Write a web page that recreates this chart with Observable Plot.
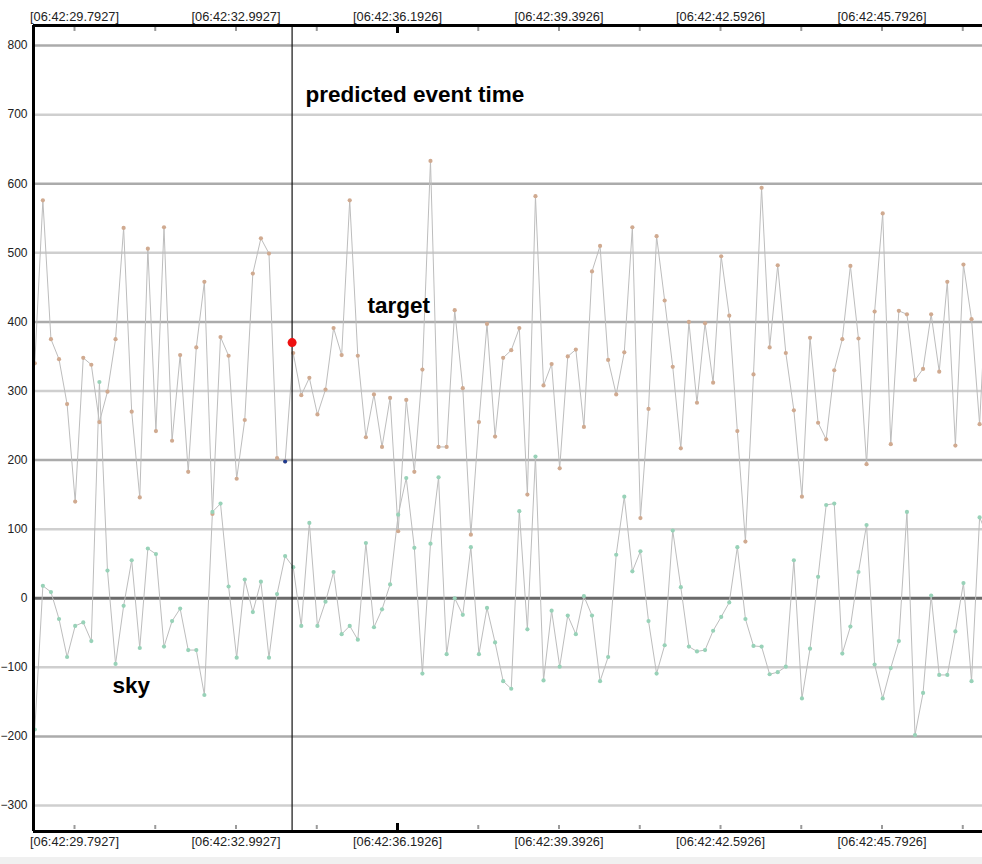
<!DOCTYPE html>
<html><head><meta charset="utf-8">
<script src="https://cdn.jsdelivr.net/npm/d3@7"></script>
<script src="https://cdn.jsdelivr.net/npm/@observablehq/plot@0.6"></script>
<style>
body{margin:0;background:#f0f0f0;}
#chart svg{display:block;background:#fff;}
</style>
</head><body><div id="chart"></div>
<script>
// sampling (seconds after 06:42:00)
const sampleStart = 29.006;
const sampleInterval = 0.16;

const target = [340,576,375,346,281,140,348,338,255,299,375,536,270,146,506,242,537,228,352,183,
  363,458,122,378,351,173,258,470,521,499,203,198,355,294,319,266,302,391,352,576,
  351,233,295,219,290,97,287,183,331,633,219,219,417,304,92,255,397,234,348,359,
  391,150,582,308,339,188,350,360,248,473,510,345,295,356,537,116,274,524,431,335,
  217,400,283,398,312,495,409,242,82,324,594,363,482,355,272,147,377,254,230,330,
  375,481,376,194,415,557,223,416,411,316,332,411,328,458,221,483,404,252,480];

const sky = [-190,18,9,-30,-85,-40,-35,-62,313,40,-95,-11,55,-72,72,64,-70,-33,-15,-75,
  -75,-140,125,137,17,-86,27,-20,24,-86,6,61,45,-40,109,-40,-5,38,-52,-40,
  -60,80,-42,-16,20,121,174,73,-109,79,175,-81,0,-24,74,-81,-14,-64,-120,-131,
  126,-45,205,-119,-18,-99,-25,-52,3,-25,-120,-85,63,147,39,68,-33,-109,-68,98,
  16,-70,-77,-75,-47,-27,-6,74,-30,-69,-70,-110,-107,-99,55,-145,-73,31,135,137,
  -80,-41,38,106,-96,-145,-101,-62,125,-198,-137,4,-111,-111,-48,22,-120,117,90];

const markedSample = 31;           // dark blue sample
const eventTime = 34.104;          // predicted event time
const eventValue = 370;

const timeTicks = [29.7927, 32.9927, 36.1926, 39.3926, 42.5926, 45.7926];
const timeTickLabels = ["[06:42:29.7927]","[06:42:32.9927]","[06:42:36.1926]","[06:42:39.3926]","[06:42:42.5926]","[06:42:45.7926]"];
const minorTicks = [29.7927, 31.3927, 32.9927, 34.5927, 37.7926, 39.3926, 40.9926, 42.5926, 44.1926, 45.7926, 47.3926];
const majorTicks = [36.1926];

const yTicks = [-300,-200,-100,0,100,200,300,400,500,600,700,800];
const gridDark = [-200,200,400,600,800];
const gridLight = [-300,-100,100,300,500,700];
const zeroLine = [0];

const xDomain = [28.9803, 47.7834];
const yDomain = [-337.6, 829];

const labels = [
  {text: "predicted event time", t: 34.37, v: 729, spacing: 0.4},
  {text: "target", t: 35.60, v: 424, spacing: 0},
  {text: "sky", t: 30.546, v: -126, spacing: 0}
];

const targetRows = target.map((v, i) => ({t: sampleStart + i * sampleInterval, v}));
const skyRows = sky.map((v, i) => ({t: sampleStart + i * sampleInterval, v}));
const markedRows = [targetRows[markedSample]];

const W = 982, H = 857, mT = 25, mB = 26, mL = 33, mR = 0;
const plotH = H - mT - mB;
const fmt = new Map(timeTicks.map((t, i) => [t, timeTickLabels[i]]));
const font = "'Liberation Sans', Arial, sans-serif";

const chart = Plot.plot({
  width: W, height: H,
  marginTop: mT, marginBottom: mB, marginLeft: mL, marginRight: mR,
  style: {fontFamily: font, fontSize: "12px", color: "#222", background: "#fff"},
  x: {type: "linear", domain: xDomain},
  y: {domain: yDomain},
  marks: [
    Plot.ruleY(gridLight, {stroke: "#cfcfcf", strokeWidth: 2.5}),
    Plot.ruleY(gridDark, {stroke: "#ababab", strokeWidth: 2.5}),
    Plot.ruleY(zeroLine, {stroke: "#6a6a6a", strokeWidth: 3}),
    Plot.line(targetRows, {x: "t", y: "v", stroke: "#bdbdbd", strokeWidth: 1, clip: true}),
    Plot.line(skyRows, {x: "t", y: "v", stroke: "#bdbdbd", strokeWidth: 1, clip: true}),
    Plot.dot(targetRows, {x: "t", y: "v", r: 2.1, fill: "#d0aa90", stroke: "none", clip: true}),
    Plot.dot(skyRows, {x: "t", y: "v", r: 2.1, fill: "#98d2b8", stroke: "none", clip: true}),
    Plot.dot(markedRows, {x: "t", y: "v", r: 2, fill: "#1d3a8f", stroke: "none"}),
    Plot.ruleX([eventTime], {stroke: "#111", strokeWidth: 1.2}),
    Plot.dot([{t: eventTime, v: eventValue}], {x: "t", y: "v", r: 4.5, fill: "#ee1111", stroke: "none"}),
    // ticks inside frame, top and bottom
    Plot.ruleX(minorTicks, {stroke: "#9a9a9a", strokeWidth: 2, insetBottom: plotH - 6, insetTop: 2}),
    Plot.ruleX(minorTicks, {stroke: "#9a9a9a", strokeWidth: 2, insetTop: plotH - 6, insetBottom: 2}),
    Plot.ruleX(majorTicks, {stroke: "#000", strokeWidth: 3, insetBottom: plotH - 8}),
    Plot.ruleX(majorTicks, {stroke: "#000", strokeWidth: 3, insetTop: plotH - 8}),
    // frame: left, top, bottom
    Plot.ruleX([xDomain[0]], {stroke: "#000", strokeWidth: 3}),
    Plot.ruleY([yDomain[1]], {stroke: "#000", strokeWidth: 3}),
    Plot.ruleY([yDomain[0]], {stroke: "#000", strokeWidth: 3}),
    Plot.axisY({ticks: yTicks, tickSize: 0, tickPadding: 6, label: null, fontSize: 12}),
    Plot.axisX({anchor: "top", ticks: timeTicks, tickFormat: t => fmt.get(t), tickSize: 0, tickPadding: 5, label: null, fontSize: 12.8}),
    Plot.axisX({anchor: "bottom", ticks: timeTicks, tickFormat: t => fmt.get(t), tickSize: 0, tickPadding: 5, label: null, fontSize: 12.8}),
    Plot.text(labels, {x: "t", y: "v", text: "text", textAnchor: "start", lineAnchor: "middle", fontSize: 22.5, fontWeight: "bold", fill: "#000", fontFamily: font, letterSpacing: 0.4})
  ]
});
document.getElementById("chart").append(chart);
</script>
</body></html>
